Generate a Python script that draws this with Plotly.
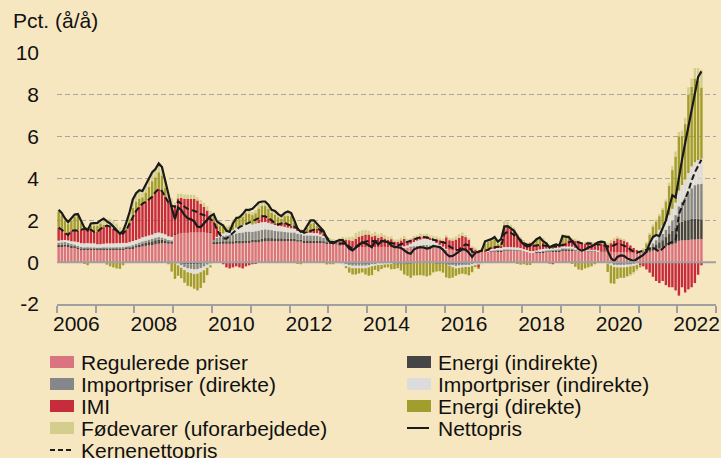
import plotly.graph_objects as go

# ---------------- data (monthly, Jan 2006 - Aug 2022) ----------------
years = list(range(2006, 2023))
months = [f"{y}-{m:02d}-01" for y in years for m in range(1, 13)][:200]

tick_labels = ["2006", "2008", "2010", "2012", "2014", "2016", "2018", "2020", "2022"]
y_ticks = [-2, 0, 2, 4, 6, 8, 10]

regulerede = [
    0.75, 0.75, 0.74, 0.72, 0.70, 0.68, 0.65, 0.62, 0.60, 0.60, 0.60, 0.60,
    0.60, 0.60, 0.62, 0.62, 0.62, 0.62, 0.62, 0.62, 0.62, 0.64, 0.64, 0.66,
    0.70, 0.72, 0.75, 0.78, 0.80, 0.82, 0.85, 0.88, 0.90, 0.90, 0.88, 0.88,
    1.30, 1.35, 1.38, 1.40, 1.40, 1.42, 1.42, 1.42, 1.42, 1.42, 1.40, 1.40,
    0.90, 0.90, 0.88, 0.88, 0.88, 0.88, 0.88, 0.90, 0.90, 0.90, 0.92, 0.92,
    0.95, 0.95, 0.95, 0.98, 1.00, 1.00, 1.00, 1.00, 1.00, 1.00, 1.00, 1.00,
    1.00, 1.00, 0.98, 0.98, 0.96, 0.96, 0.96, 0.95, 0.95, 0.95, 0.92, 0.90,
    0.88, 0.86, 0.84, 0.82, 0.80, 0.78, 0.75, 0.72, 0.72, 0.72, 0.72, 0.72,
    0.72, 0.73, 0.72, 0.71, 0.72, 0.73, 0.72, 0.70, 0.70, 0.70, 0.70, 0.70,
    0.70, 0.70, 0.70, 0.70, 0.70, 0.72, 0.72, 0.72, 0.70, 0.68, 0.66, 0.64,
    0.60, 0.60, 0.58, 0.58, 0.56, 0.55, 0.55, 0.55, 0.52, 0.50, 0.50, 0.50,
    0.50, 0.50, 0.50, 0.50, 0.52, 0.52, 0.55, 0.55, 0.55, 0.55, 0.55, 0.55,
    0.50, 0.50, 0.48, 0.48, 0.48, 0.48, 0.48, 0.50, 0.50, 0.50, 0.52, 0.52,
    0.55, 0.55, 0.55, 0.56, 0.55, 0.55, 0.54, 0.54, 0.53, 0.52, 0.52, 0.50,
    0.50, 0.50, 0.50, 0.50, 0.48, 0.48, 0.48, 0.47, 0.46, 0.45, 0.45, 0.45,
    0.45, 0.45, 0.48, 0.50, 0.55, 0.60, 0.65, 0.70, 0.75, 0.80, 0.85, 0.90,
    1.02, 1.04, 1.05, 1.06, 1.08, 1.08, 1.10, 1.10,
]

energi_indirekte = [
    0.08, 0.08, 0.10, 0.10, 0.08, 0.06, 0.05, 0.05, 0.05, 0.06, 0.05, 0.05,
    0.03, 0.03, 0.03, 0.03, 0.03, 0.03, 0.04, 0.04, 0.05, 0.05, 0.06, 0.08,
    0.10, 0.12, 0.14, 0.15, 0.16, 0.18, 0.20, 0.20, 0.18, 0.15, 0.12, 0.10,
    0.05, 0.00, -0.05, -0.08, -0.10, -0.10, -0.10, -0.08, -0.06, -0.03, 0.00, 0.03,
    0.05, 0.08, 0.10, 0.12, 0.12, 0.12, 0.12, 0.12, 0.12, 0.12, 0.12, 0.12,
    0.12, 0.13, 0.14, 0.15, 0.15, 0.15, 0.15, 0.14, 0.14, 0.14, 0.13, 0.13,
    0.12, 0.12, 0.10, 0.10, 0.08, 0.08, 0.08, 0.08, 0.08, 0.06, 0.05, 0.04,
    0.02, 0.00, -0.02, -0.03, -0.04, -0.05, -0.05, -0.05, -0.05, -0.05, -0.05, -0.05,
    -0.05, -0.04, -0.04, -0.03, -0.03, -0.03, -0.03, -0.03, -0.04, -0.04, -0.05, -0.05,
    -0.05, -0.05, -0.04, -0.03, -0.02, -0.02, -0.03, -0.03, -0.04, -0.05, -0.05, -0.05,
    -0.05, -0.05, -0.06, -0.06, -0.06, -0.05, -0.05, -0.05, -0.04, -0.03, -0.02, -0.02,
    0.00, 0.01, 0.02, 0.02, 0.02, 0.02, 0.02, 0.02, 0.02, 0.02, 0.01, 0.00,
    0.00, -0.02, -0.02, 0.00, 0.02, 0.03, 0.03, 0.03, 0.03, 0.04, 0.04, 0.04,
    0.05, 0.05, 0.05, 0.03, 0.02, 0.00, 0.00, 0.00, 0.00, 0.00, 0.00, 0.00,
    0.00, 0.00, -0.02, -0.05, -0.08, -0.08, -0.08, -0.08, -0.06, -0.05, -0.04, -0.02,
    0.00, 0.02, 0.05, 0.12, 0.20, 0.25, 0.30, 0.35, 0.45, 0.55, 0.65, 0.75,
    0.85, 0.90, 0.95, 0.95, 1.00, 1.00, 0.98, 0.95,
]

importpriser_direkte = [
    0.10, 0.12, 0.12, 0.10, 0.10, 0.10, 0.08, 0.06, 0.05, 0.05, 0.05, 0.05,
    0.05, 0.05, 0.05, 0.05, 0.05, 0.05, 0.05, 0.05, 0.05, 0.05, 0.06, 0.07,
    0.08, 0.10, 0.10, 0.10, 0.12, 0.12, 0.12, 0.12, 0.10, 0.08, 0.06, 0.05,
    0.00, -0.05, -0.10, -0.15, -0.20, -0.22, -0.25, -0.25, -0.22, -0.18, -0.12, -0.05,
    0.10, 0.18, 0.22, 0.25, 0.28, 0.30, 0.32, 0.35, 0.38, 0.40, 0.42, 0.42,
    0.38, 0.40, 0.42, 0.42, 0.42, 0.40, 0.38, 0.36, 0.34, 0.33, 0.32, 0.30,
    0.30, 0.30, 0.28, 0.26, 0.24, 0.24, 0.24, 0.24, 0.24, 0.22, 0.20, 0.18,
    0.12, 0.10, 0.06, 0.02, -0.03, -0.06, -0.10, -0.12, -0.12, -0.12, -0.12, -0.12,
    -0.10, -0.08, -0.06, -0.05, -0.05, -0.04, -0.04, -0.04, -0.04, -0.05, -0.05, -0.04,
    0.00, 0.03, 0.06, 0.08, 0.10, 0.10, 0.10, 0.08, 0.06, 0.04, 0.02, 0.00,
    -0.08, -0.10, -0.12, -0.12, -0.10, -0.10, -0.08, -0.08, -0.06, -0.05, -0.04, -0.03,
    0.00, 0.02, 0.03, 0.03, 0.03, 0.03, 0.03, 0.03, 0.03, 0.02, 0.02, 0.02,
    0.02, 0.00, -0.02, -0.02, 0.00, 0.02, 0.02, 0.02, 0.03, 0.03, 0.03, 0.04,
    0.05, 0.05, 0.05, 0.05, 0.04, 0.03, 0.02, 0.02, 0.02, 0.02, 0.02, 0.02,
    0.02, 0.02, 0.00, -0.03, -0.05, -0.05, -0.05, -0.05, -0.05, -0.05, -0.04, -0.03,
    0.00, 0.02, 0.05, 0.10, 0.15, 0.20, 0.25, 0.30, 0.35, 0.40, 0.50, 0.60,
    0.80, 0.95, 1.10, 1.30, 1.45, 1.60, 1.65, 1.70,
]

importpriser_indirekte = [
    0.10, 0.10, 0.10, 0.12, 0.12, 0.15, 0.18, 0.18, 0.20, 0.20, 0.20, 0.20,
    0.18, 0.18, 0.18, 0.20, 0.20, 0.20, 0.20, 0.20, 0.20, 0.18, 0.20, 0.20,
    0.18, 0.18, 0.20, 0.20, 0.20, 0.20, 0.22, 0.22, 0.20, 0.20, 0.18, 0.18,
    -0.05, -0.10, -0.12, -0.15, -0.18, -0.20, -0.22, -0.22, -0.20, -0.18, -0.15, -0.10,
    0.00, 0.05, 0.10, 0.12, 0.15, 0.18, 0.22, 0.28, 0.32, 0.35, 0.38, 0.40,
    0.35, 0.36, 0.36, 0.36, 0.35, 0.33, 0.31, 0.29, 0.27, 0.25, 0.24, 0.22,
    0.20, 0.18, 0.16, 0.14, 0.12, 0.12, 0.12, 0.12, 0.12, 0.10, 0.08, 0.06,
    0.04, 0.02, 0.00, -0.03, -0.06, -0.08, -0.10, -0.12, -0.12, -0.12, -0.12, -0.12,
    -0.10, -0.08, -0.07, -0.06, -0.05, -0.04, -0.03, -0.02, 0.00, 0.02, 0.04, 0.06,
    0.10, 0.15, 0.20, 0.25, 0.28, 0.30, 0.30, 0.28, 0.25, 0.20, 0.15, 0.10,
    0.04, -0.02, -0.06, -0.12, -0.12, -0.10, -0.10, -0.10, -0.08, -0.06, -0.05, -0.04,
    0.00, 0.05, 0.08, 0.10, 0.12, 0.12, 0.12, 0.12, 0.12, 0.12, 0.12, 0.10,
    0.10, 0.08, 0.05, 0.05, 0.06, 0.08, 0.10, 0.10, 0.10, 0.10, 0.10, 0.10,
    0.10, 0.10, 0.10, 0.10, 0.08, 0.07, 0.06, 0.05, 0.05, 0.05, 0.05, 0.04,
    -0.02, -0.02, -0.05, -0.08, -0.10, -0.12, -0.12, -0.12, -0.12, -0.10, -0.10, -0.08,
    -0.05, 0.00, 0.08, 0.15, 0.25, 0.30, 0.35, 0.40, 0.45, 0.50, 0.55, 0.60,
    0.75, 0.80, 0.85, 0.95, 1.05, 1.10, 1.15, 1.20,
]

imi = [
    0.62, 0.50, 0.34, 0.26, 0.50, 0.53, 0.54, 0.64, 0.70, 0.69, 0.65, 0.55,
    0.59, 0.74, 0.80, 0.85, 0.80, 0.70, 0.61, 0.49, 0.44, 0.63, 0.89, 1.14,
    1.39, 1.52, 1.61, 1.65, 1.72, 1.80, 1.97, 2.08, 2.02, 1.82, 1.61, 1.49,
    1.35, 1.70, 1.69, 1.63, 1.63, 1.60, 1.60, 1.53, 1.36, 1.22, 1.07, 0.77,
    0.90, 0.50, 0.15, -0.10, -0.25, -0.30, -0.25, -0.20, -0.25, -0.30, -0.20, -0.15,
    -0.10, -0.05, 0.15, 0.29, 0.28, 0.22, 0.16, 0.06, 0.05, 0.13, 0.21, 0.15,
    0.13, 0.10, 0.08, 0.02, 0.00, 0.05, 0.10, 0.16, 0.21, 0.22, 0.10, -0.03,
    0.00, 0.05, 0.10, 0.15, 0.25, 0.30, 0.30, 0.30, 0.40, 0.50, 0.55, 0.60,
    0.60, 0.50, 0.55, 0.45, 0.50, 0.40, 0.35, 0.40, 0.30, 0.25, 0.30, 0.35,
    0.22, 0.15, 0.18, 0.12, 0.15, 0.10, 0.12, 0.08, 0.10, 0.18, 0.22, 0.28,
    0.55, 0.45, 0.45, 0.50, 0.60, 0.70, 0.65, 0.55, 0.20, 0.10, -0.15, 0.10,
    0.05, 0.03, 0.09, 0.09, 0.05, 0.08, 0.90, 0.95, 0.85, 0.75, 0.60, 0.45,
    0.35, 0.30, 0.40, 0.30, 0.25, 0.20, 0.30, 0.15, 0.10, -0.10, 0.10, 0.15,
    0.15, 0.20, 0.30, 0.35, 0.35, 0.35, 0.30, 0.30, 0.32, 0.32, 0.30, 0.28,
    0.35, 0.30, 0.32, 0.41, 0.55, 0.65, 0.62, 0.58, 0.49, 0.35, 0.23, 0.13,
    -0.10, -0.20, -0.35, -0.50, -0.70, -0.90, -1.00, -0.90, -1.10, -1.20, -1.20, -1.35,
    -1.60, -1.20, -1.45, -1.30, -1.20, -1.00, -0.60, -0.15,
]

energi_direkte = [
    0.75, 0.70, 0.60, 0.52, 0.50, 0.65, 0.70, 0.35, -0.05, -0.15, 0.20, 0.30,
    0.30, 0.25, 0.10, -0.12, -0.20, -0.25, -0.30, -0.32, -0.15, 0.05, 0.20, 0.45,
    0.45, 0.40, 0.30, 0.45, 0.60, 0.75, 0.70, 0.80, 0.75, 0.40, -0.10, -0.45,
    -0.75, -0.50, -0.50, -0.60, -0.65, -0.65, -0.70, -0.80, -0.75, -0.60, -0.35, -0.10,
    0.25, 0.15, 0.30, 0.35, 0.20, 0.20, 0.35, 0.40, 0.35, 0.40, 0.50, 0.45,
    0.45, 0.50, 0.55, 0.50, 0.50, 0.45, 0.35, 0.42, 0.35, 0.22, 0.30, 0.42,
    0.45, 0.20, -0.05, -0.10, 0.00, 0.20, 0.35, 0.32, 0.15, 0.05, 0.05, -0.08,
    -0.10, -0.10, 0.00, 0.10, 0.08, -0.10, -0.25, -0.30, -0.30, -0.25, -0.20, -0.30,
    -0.40, -0.42, -0.20, -0.30, -0.20, -0.15, -0.15, -0.25, -0.25, -0.20, -0.30, -0.50,
    -0.60, -0.70, -0.60, -0.60, -0.60, -0.62, -0.65, -0.60, -0.45, -0.40, -0.38, -0.45,
    -0.60, -0.60, -0.50, -0.35, -0.30, -0.30, -0.35, -0.40, -0.30, -0.10, -0.05, 0.00,
    0.35, 0.35, 0.30, 0.35, 0.15, 0.20, 0.15, 0.10, 0.05, 0.05, -0.05, -0.12,
    -0.10, -0.12, -0.05, 0.12, 0.25, 0.30, 0.15, 0.08, -0.08, 0.03, 0.08, -0.02,
    0.35, 0.30, 0.18, -0.05, -0.22, -0.35, -0.38, -0.30, -0.25, -0.20, -0.10, 0.05,
    0.10, 0.05, -0.40, -0.85, -0.80, -0.55, -0.50, -0.50, -0.45, -0.40, -0.30, -0.20,
    -0.10, 0.10, 0.25, 0.45, 0.55, 0.60, 0.65, 0.75, 0.90, 1.40, 1.85, 2.20,
    2.60, 2.35, 2.65, 3.75, 3.80, 4.00, 3.80, 3.40,
]

foedevarer = [
    0.10, 0.10, 0.10, 0.10, 0.10, 0.11, 0.10, 0.10, 0.10, 0.07, 0.10, 0.12,
    0.13, 0.15, 0.30, 0.32, 0.35, 0.35, 0.33, 0.28, 0.29, 0.30, 0.35, 0.40,
    0.40, 0.40, 0.30, 0.37, 0.40, 0.43, 0.39, 0.42, 0.40, 0.35, 0.35, 0.35,
    0.15, 0.22, 0.20, 0.20, 0.20, 0.20, 0.20, 0.15, 0.18, 0.20, 0.20, 0.25,
    0.10, 0.10, 0.10, 0.10, 0.10, 0.10, 0.15, 0.15, 0.15, 0.15, 0.20, 0.15,
    0.15, 0.15, 0.20, 0.20, 0.20, 0.20, 0.15, 0.18, 0.15, 0.13, 0.15, 0.20,
    0.15, 0.10, 0.05, 0.05, 0.10, 0.10, 0.15, 0.13, 0.10, 0.10, 0.10, 0.08,
    0.05, 0.05, 0.05, 0.07, 0.07, 0.10, 0.15, 0.20, 0.28, 0.25, 0.25, 0.22,
    0.18, 0.14, 0.18, 0.17, 0.18, 0.17, 0.15, 0.13, 0.09, 0.12, 0.13, 0.15,
    0.10, 0.10, 0.12, 0.13, 0.14, 0.12, 0.12, 0.13, 0.15, 0.13, 0.12, 0.10,
    0.10, 0.10, 0.12, 0.15, 0.18, 0.17, 0.10, 0.05, 0.05, 0.10, 0.08, 0.05,
    0.10, 0.10, 0.10, 0.13, 0.11, 0.15, 0.20, 0.17, 0.17, 0.15, 0.10, 0.07,
    0.05, 0.02, 0.03, 0.05, 0.05, 0.06, 0.05, 0.04, 0.03, 0.03, 0.02, 0.02,
    0.08, 0.07, 0.07, 0.05, 0.04, 0.02, 0.03, 0.02, 0.05, 0.05, 0.07, 0.05,
    0.05, 0.08, 0.12, 0.15, 0.12, 0.10, 0.05, 0.05, 0.00, -0.05, -0.05, -0.05,
    0.05, 0.05, 0.05, 0.08, 0.10, 0.10, 0.10, 0.10, 0.10, 0.15, 0.20, 0.25,
    0.20, 0.25, 0.30, 0.35, 0.40, 0.50, 0.60, 0.85,
]

nettopris = [
    2.50, 2.35, 2.10, 1.92, 2.10, 2.28, 2.30, 2.00, 1.65, 1.52, 1.85, 1.87,
    1.88, 2.00, 2.08, 1.95, 1.85, 1.70, 1.55, 1.36, 1.50, 1.90, 2.40, 3.00,
    3.30, 3.44, 3.40, 3.70, 4.00, 4.30, 4.45, 4.72, 4.55, 3.90, 3.10, 2.60,
    2.05, 2.62, 2.50, 2.25, 2.10, 2.05, 1.95, 1.70, 1.68, 1.85, 2.05, 2.20,
    2.30, 1.95, 1.85, 1.75, 1.50, 1.45, 1.85, 2.10, 2.15, 2.30, 2.50, 2.50,
    2.55, 2.70, 2.85, 2.90, 2.90, 2.75, 2.50, 2.45, 2.30, 2.20, 2.35, 2.42,
    2.35, 2.00, 1.60, 1.45, 1.50, 1.75, 2.00, 2.00, 1.85, 1.70, 1.50, 1.15,
    0.95, 0.90, 1.00, 1.05, 1.05, 0.85, 0.65, 0.56, 0.70, 0.85, 0.95, 0.90,
    0.80, 0.72, 1.00, 0.85, 1.00, 1.00, 0.95, 0.80, 0.72, 0.72, 0.68, 0.55,
    0.45, 0.40, 0.60, 0.68, 0.72, 0.70, 0.65, 0.68, 0.78, 0.75, 0.72, 0.60,
    0.40, 0.28, 0.30, 0.40, 0.50, 0.62, 0.60, 0.45, 0.25, 0.45, 0.50, 0.56,
    1.00, 1.05, 1.10, 1.20, 0.98, 1.10, 1.70, 1.72, 1.62, 1.50, 1.25, 1.00,
    0.85, 0.75, 0.78, 0.95, 1.10, 1.18, 1.00, 0.90, 0.70, 0.80, 0.85, 0.80,
    1.25, 1.22, 1.20, 1.00, 0.80, 0.62, 0.55, 0.60, 0.70, 0.75, 0.85, 0.95,
    0.98, 0.95, 0.55, 0.20, 0.05, 0.25, 0.32, 0.30, 0.18, 0.10, 0.05, 0.15,
    0.25, 0.35, 0.50, 0.90, 1.20, 1.30, 1.25, 1.60, 2.00, 2.60, 3.20, 3.10,
    4.10, 4.90, 5.70, 6.50, 7.30, 8.20, 8.85, 9.12,
]

kernenettopris = [
    1.65, 1.55, 1.40, 1.30, 1.50, 1.52, 1.50, 1.55, 1.60, 1.60, 1.55, 1.45,
    1.45, 1.60, 1.68, 1.75, 1.70, 1.60, 1.52, 1.40, 1.36, 1.55, 1.85, 2.15,
    2.45, 2.64, 2.80, 2.88, 3.00, 3.12, 3.36, 3.50, 3.40, 3.15, 2.85, 2.70,
    2.65, 2.90, 2.80, 2.65, 2.55, 2.50, 2.45, 2.40, 2.30, 2.25, 2.20, 2.05,
    1.95, 1.55, 1.30, 1.15, 1.12, 1.25, 1.40, 1.55, 1.68, 1.75, 1.82, 1.90,
    1.95, 2.05, 2.10, 2.20, 2.20, 2.10, 2.00, 1.85, 1.80, 1.85, 1.90, 1.80,
    1.75, 1.70, 1.60, 1.50, 1.40, 1.45, 1.50, 1.55, 1.60, 1.55, 1.35, 1.15,
    1.00, 0.95, 0.95, 0.88, 0.90, 0.85, 0.75, 0.65, 0.72, 0.85, 0.90, 0.98,
    1.02, 1.00, 1.02, 0.98, 1.02, 0.98, 0.95, 0.92, 0.88, 0.80, 0.85, 0.90,
    0.95, 1.00, 1.08, 1.15, 1.18, 1.20, 1.18, 1.15, 1.08, 1.02, 0.98, 0.95,
    0.90, 0.75, 0.65, 0.58, 0.60, 0.75, 0.85, 0.80, 0.50, 0.45, 0.50, 0.55,
    0.55, 0.60, 0.70, 0.72, 0.72, 0.75, 1.35, 1.45, 1.40, 1.30, 1.20, 1.05,
    0.90, 0.85, 0.80, 0.78, 0.80, 0.82, 0.80, 0.78, 0.75, 0.74, 0.75, 0.80,
    0.82, 0.85, 0.95, 1.00, 0.98, 0.95, 0.90, 0.88, 0.90, 0.90, 0.88, 0.85,
    0.85, 0.80, 0.75, 0.75, 0.80, 0.88, 0.85, 0.80, 0.72, 0.60, 0.50, 0.45,
    0.50, 0.55, 0.60, 0.65, 0.70, 0.60, 0.50, 0.65, 0.80, 0.90, 0.98, 1.05,
    2.30, 2.65, 3.00, 3.40, 3.90, 4.30, 4.60, 4.90,
]

# ---------------- styling ----------------
BG = "#F6E7C1"
FONT = "Liberation Sans, Arial, Helvetica, sans-serif"
TXT = "#111111"
AXIS_GREY = "#A0A0A0"

bar_defs = [
    ("Regulerede priser", regulerede, "#DA7480"),
    ("Energi (indirekte)", energi_indirekte, "#454545"),
    ("Importpriser (direkte)", importpriser_direkte, "#85878A"),
    ("Importpriser (indirekte)", importpriser_indirekte, "#DCDCDC"),
    ("IMI", imi, "#C72C3D"),
    ("Energi (direkte)", energi_direkte, "#A39D2E"),
    ("Fødevarer (uforarbejdede)", foedevarer, "#D3CE8E"),
]
line_defs = [
    ("Nettopris", nettopris, "solid", 2.2),
    ("Kernenettopris", kernenettopris, "6px,3px", 2.0),
]

fig = go.Figure()
for name, vals, color in bar_defs:
    fig.add_trace(go.Bar(
        x=months, y=vals, name=name, marker_color=color, marker_line_width=0,
        xperiod="M1", xperiodalignment="middle", showlegend=False,
    ))
for name, vals, dash, w in line_defs:
    fig.add_trace(go.Scatter(
        x=months, y=vals, name=name, mode="lines",
        line=dict(color="#1A1A1A", width=w, dash=dash),
        xperiod="M1", xperiodalignment="middle", showlegend=False,
    ))

W, H = 721, 458
L, R, T, B = 57, 5, 53, 154
PW, PH = W - L - R, H - T - B


def px(x):
    return (x - L) / PW


def py(y):
    return (H - B - y) / PH


shapes = [dict(type="line", xref="paper", yref="y", x0=0, x1=1, y0=0, y1=0,
               line=dict(color=AXIS_GREY, width=2), layer="above")]
annotations = [dict(text="Pct. (å/å)", xref="paper", yref="paper", x=px(11), y=py(21),
                    xanchor="left", yanchor="middle", showarrow=False,
                    font=dict(size=21, color=TXT, family=FONT))]

# custom two-column legend (rows are tighter than plotly's native legend allows)
legend_items = [
    ("Regulerede priser", "#DA7480", "box"),
    ("Energi (indirekte)", "#454545", "box"),
    ("Importpriser (direkte)", "#85878A", "box"),
    ("Importpriser (indirekte)", "#DCDCDC", "box"),
    ("IMI", "#C72C3D", "box"),
    ("Energi (direkte)", "#A39D2E", "box"),
    ("Fødevarer (uforarbejdede)", "#D3CE8E", "box"),
    ("Nettopris", "#1A1A1A", "solid"),
    ("Kernenettopris", "#1A1A1A", "dash"),
]
col_x = [50, 407]
row_y = [362, 384, 406, 428, 450]
for i, (name, color, kind) in enumerate(legend_items):
    cx, ry = col_x[i % 2], row_y[i // 2]
    if kind == "box":
        shapes.append(dict(type="rect", xref="paper", yref="paper",
                           x0=px(cx), x1=px(cx + 24), y0=py(ry + 6), y1=py(ry - 6),
                           fillcolor=color, line=dict(width=0), layer="above"))
    else:
        shapes.append(dict(type="line", xref="paper", yref="paper",
                           x0=px(cx), x1=px(cx + 22), y0=py(ry), y1=py(ry),
                           line=dict(color=color, width=2,
                                     dash="solid" if kind == "solid" else "5px,3px"),
                           layer="above"))
    annotations.append(dict(text=name, xref="paper", yref="paper", x=px(cx + 29), y=py(ry),
                            xanchor="left", yanchor="middle", showarrow=False,
                            font=dict(size=21, color=TXT, family=FONT)))

fig.update_layout(
    width=W, height=H,
    margin=dict(l=L, r=R, t=T, b=B, autoexpand=False),
    paper_bgcolor=BG, plot_bgcolor=BG,
    barmode="relative", bargap=0.22,
    font=dict(family=FONT, size=21, color=TXT),
    showlegend=False,
    shapes=shapes, annotations=annotations,
    xaxis=dict(
        type="date", range=["2006-01-01", "2023-01-01"],
        tickmode="array", tickvals=[f"{t}-07-02" for t in tick_labels], ticktext=tick_labels,
        ticks="", showgrid=False, zeroline=False,
        showline=True, linecolor=AXIS_GREY, linewidth=2,
        minor=dict(ticks="outside", ticklen=7, tickwidth=2, tickcolor=AXIS_GREY,
                   dtick="M12", tick0="2006-01-01", showgrid=False),
        tickfont=dict(size=21, color=TXT, family=FONT),
        ticklabelstandoff=0,
    ),
    yaxis=dict(
        range=[-2, 10], tickmode="array", tickvals=y_ticks,
        ticktext=[str(v) for v in y_ticks],
        showgrid=True, gridcolor="#A6A6A6", gridwidth=1.3, griddash="5px,3px",
        zeroline=False, showline=False, ticks="",
        tickfont=dict(size=21, color=TXT, family=FONT),
        ticklabelstandoff=17,
    ),
)

# remove the browser's default 8px body margin so the figure fills the window exactly
fig.write_html("out.html",
               config={"displayModeBar": False},
               post_script="document.body.style.margin='0px';"
                           "document.body.style.background='" + BG + "';")
